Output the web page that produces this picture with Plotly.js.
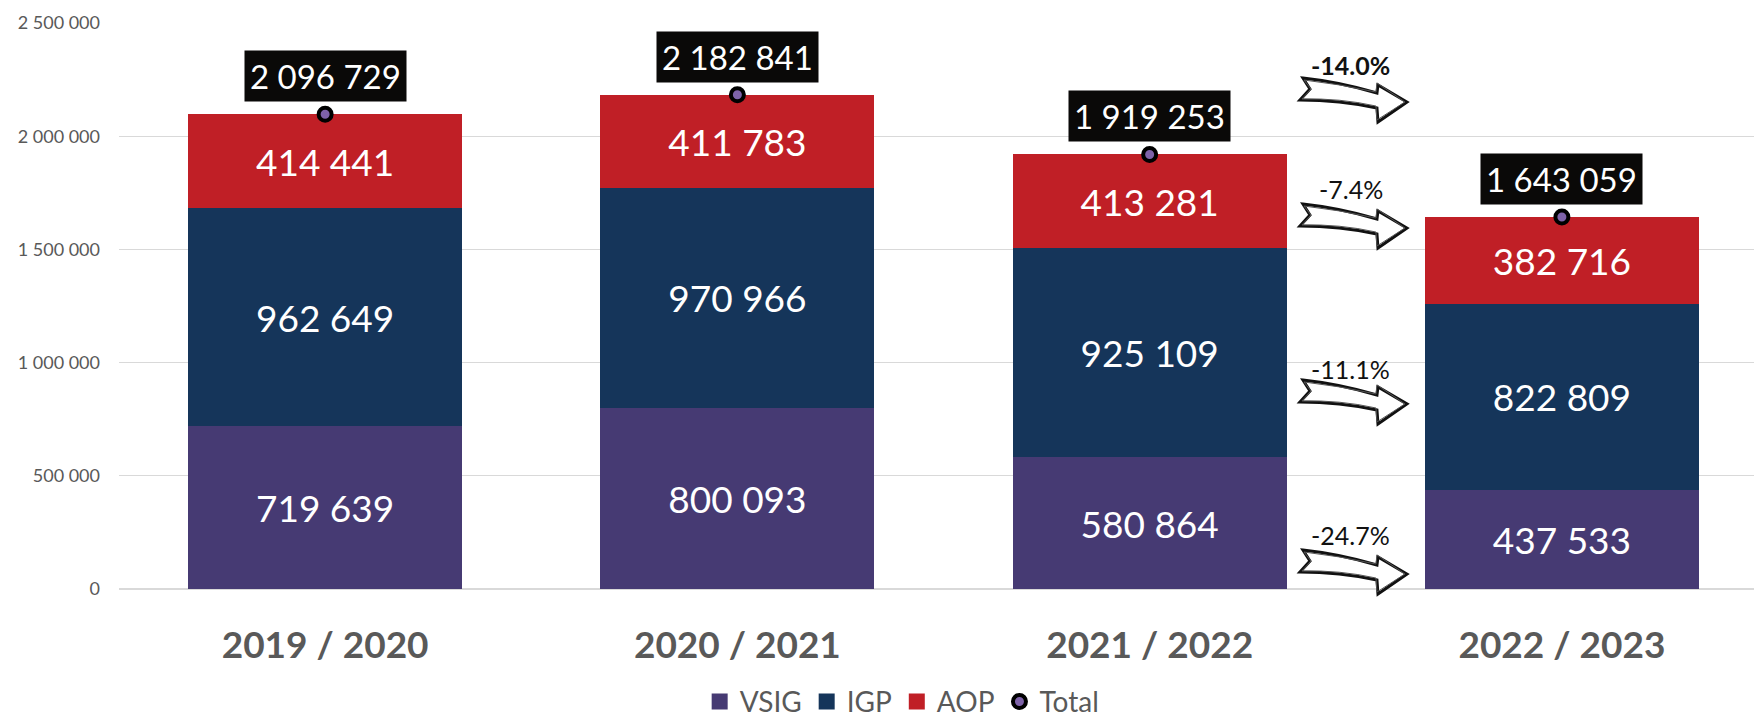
<!DOCTYPE html>
<html>
<head>
<meta charset="utf-8">
<script src="https://cdn.plot.ly/plotly-3.0.1.min.js"></script>
<style>
  html, body { margin: 0; padding: 0; background: #ffffff; }
  #chart { width: 1754px; height: 722px; }
</style>
</head>
<body>
<div id="chart"></div>
<script>
// ---- data ----
const categories = ['2019 / 2020', '2020 / 2021', '2021 / 2022', '2022 / 2023'];
const vsig  = [719639, 800093, 580864, 437533];
const igp   = [962649, 970966, 925109, 822809];
const aop   = [414441, 411783, 413281, 382716];
const total = [2096729, 2182841, 1919253, 1643059];

// change labels between 2021/2022 and 2022/2023 (top to bottom: Total, AOP, IGP, VSIG)
const changeLabels = ['-14.0%', '-7.4%', '-11.1%', '-24.7%'];

const yTickVals = [0, 500000, 1000000, 1500000, 2000000, 2500000];
const yTickText = ['0', '500 000', '1 000 000', '1 500 000', '2 000 000', '2 500 000'];

const seriesNames  = ['VSIG', 'IGP', 'AOP'];
const seriesColors = ['#463A73', '#15355A', '#C01F26'];

// ---- helpers ----
function fmt(n) { return String(n).replace(/\B(?=(\d{3})+(?!\d))/g, ' '); }

const FONT = 'Lato, "Open Sans", sans-serif';
const GREY = '#595959';

function barTrace(name, values, color) {
  return {
    type: 'bar', name: name, x: categories, y: values, showlegend: false,
    marker: { color: color, line: { width: 0 } },
    text: values.map(fmt), textposition: 'inside', insidetextanchor: 'middle',
    textangle: 0, constraintext: 'none',
    textfont: { family: FONT, size: 37, color: '#ffffff' },
    hoverinfo: 'skip'
  };
}

const seriesValues = [vsig, igp, aop];
const traces = seriesNames.map((n, i) => barTrace(n, seriesValues[i], seriesColors[i]));

// legend entries with larger square swatches
seriesNames.forEach((n, i) => {
  traces.push({
    type: 'scatter', mode: 'markers', name: n, x: [null], y: [null],
    marker: { symbol: 'square', size: 16, color: seriesColors[i], line: { width: 0 } },
    hoverinfo: 'skip'
  });
});

traces.push({
  type: 'scatter', mode: 'markers', name: 'Total', x: categories, y: total,
  marker: { size: 13, color: '#7E62A8', line: { color: '#000000', width: 4 } },
  hoverinfo: 'skip'
});

// total labels (black boxes)
const annotations = categories.map((c, i) => ({
  x: c, y: total[i], xref: 'x', yref: 'y',
  text: fmt(total[i]), showarrow: false,
  yanchor: 'bottom', yshift: 12,
  bgcolor: '#0a0908', borderpad: 5,
  font: { family: FONT, size: 33, color: '#ffffff' }
}));

// arrow decorations (positions in plot fractions)
const arrowTextY = [0.9258, 0.7067, 0.3887, 0.0954];
const arrowTopY  = [0.9028, 0.6802, 0.3693, 0.0689];
const arrowX = 0.7223, arrowTextX = 0.7535;

changeLabels.forEach((lab, i) => {
  annotations.push({
    x: arrowTextX, y: arrowTextY[i], xref: 'paper', yref: 'paper',
    text: lab, showarrow: false, xanchor: 'center', yanchor: 'middle',
    font: { family: FONT, size: 25, color: '#111111', weight: i === 0 ? 'bold' : 'normal' }
  });
});

const arrowPath = 'M3,0 Q40,-4 77,-15 L78,-7 L107,-24 L78,-44 L77,-30 Q40,-22 0,-22 L10,-11 Z';
const arrowPath2 = 'M4,-2 Q40,-6 76,-14 L77,-5 L105,-24 L77,-42 L76,-28 Q40,-20 2,-21 L11,-11 Z';
const shapes = [];
arrowTopY.forEach(y => {
  shapes.push({
    type: 'path', xref: 'paper', yref: 'paper',
    xsizemode: 'pixel', ysizemode: 'pixel', xanchor: arrowX, yanchor: y,
    path: arrowPath, fillcolor: '#ffffff',
    line: { color: '#111111', width: 3 }, layer: 'above'
  });
  shapes.push({
    type: 'path', xref: 'paper', yref: 'paper',
    xsizemode: 'pixel', ysizemode: 'pixel', xanchor: arrowX, yanchor: y,
    path: arrowPath2, fillcolor: 'rgba(0,0,0,0)',
    line: { color: '#555555', width: 1 }, layer: 'above'
  });
});

const layout = {
  width: 1754, height: 722,
  margin: { l: 119, r: 0, t: 23, b: 133, pad: 0 },
  paper_bgcolor: '#ffffff', plot_bgcolor: '#ffffff',
  barmode: 'stack', bargap: 0.335,
  showlegend: true,
  legend: {
    orientation: 'h', x: 0.479, xanchor: 'center',
    yref: 'container', y: 0.028, yanchor: 'middle',
    traceorder: 'normal', font: { family: FONT, size: 28, color: GREY },
    itemwidth: 30
  },
  xaxis: {
    type: 'category', range: [-0.5, 3.466],
    showgrid: false, zeroline: false, showline: false, ticks: '',
    ticklabelstandoff: 31,
    tickfont: { family: FONT, size: 37, color: GREY, weight: 'bold' },
    fixedrange: true
  },
  yaxis: {
    range: [0, 2500000],
    tickvals: yTickVals, ticktext: yTickText,
    showgrid: true, gridcolor: '#D9D9D9', gridwidth: 1.3,
    zeroline: true, zerolinecolor: '#D9D9D9', zerolinewidth: 1.3,
    showline: false, ticks: '', ticklabelstandoff: 18,
    tickfont: { family: FONT, size: 18, color: GREY },
    fixedrange: true
  },
  annotations: annotations,
  shapes: shapes
};

Plotly.newPlot('chart', traces, layout, { displayModeBar: false, staticPlot: true });
</script>
</body>
</html>
